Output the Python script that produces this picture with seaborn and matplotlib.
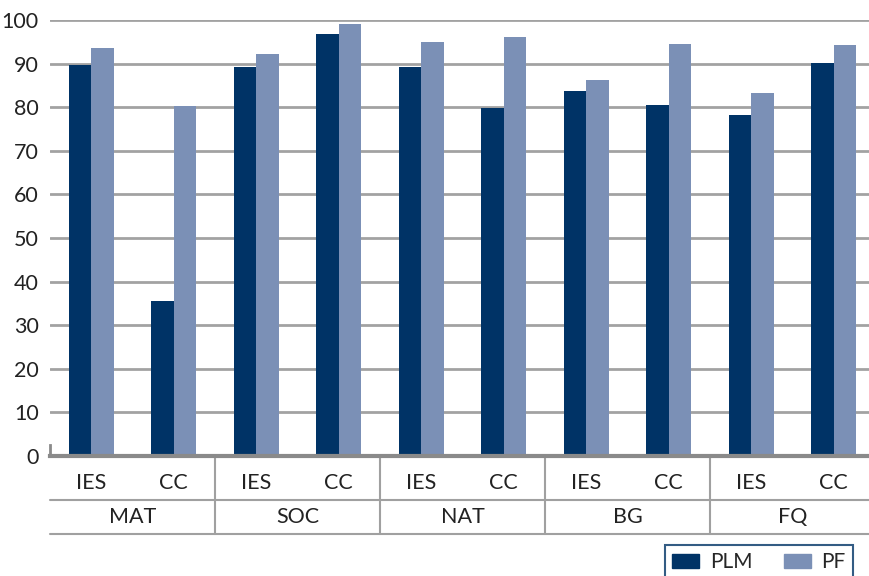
import pandas as pd
import matplotlib
matplotlib.use("Agg")
import matplotlib.pyplot as plt
import matplotlib.transforms as mtransforms
import seaborn as sns

sns.set_style("white")
plt.rcParams['font.family'] = ['Lato', 'DejaVu Sans']

groups = ['MAT', 'SOC', 'NAT', 'BG', 'FQ']
subgroups = ['IES', 'CC']
plm = [89.6, 35.6, 89.2, 96.8, 89.2, 79.9, 83.8, 80.5, 78.2, 90.2]
pf = [93.6, 80.2, 92.2, 99.1, 95.0, 96.1, 86.2, 94.5, 83.3, 94.3]
series = ['PLM', 'PF']
colors = ['#003366', '#7b90b6']

cats = [g + ' ' + s for g in groups for s in subgroups]
d = pd.DataFrame({
    'cat': cats * 2,
    'series': ['PLM'] * len(cats) + ['PF'] * len(cats),
    'value': plm + pf,
})

fig = plt.figure(figsize=(8.7, 5.76), dpi=100)
ax = fig.add_axes([50 / 870, 1 - 456 / 576, 825 / 870, 436 / 576])

sns.barplot(data=d, x='cat', y='value', hue='series', order=cats, hue_order=series,
            palette=colors, width=0.54, saturation=1, linewidth=0, ax=ax, legend=False)

ax.set_ylim(0, 100)
ax.set_xlim(-0.5, len(cats) - 0.5)
ax.set_yticks(range(0, 101, 10))
ax.yaxis.grid(True, color='#a2a2a2', linewidth=2)
ax.set_axisbelow(True)
ax.set(xlabel='', ylabel='')
ax.tick_params(axis='y', length=0, pad=8, labelsize=15.5, labelcolor='#222222')
ax.tick_params(axis='x', length=0, pad=12, labelsize=15.5, labelcolor='#222222')
ax.set_xticks(range(len(cats)))
ax.set_xticklabels([s for g in groups for s in subgroups])

for side in ['top', 'right']:
    ax.spines[side].set_visible(False)
ax.spines['bottom'].set_color('#8a8a8a')
ax.spines['bottom'].set_linewidth(3)
ax.spines['left'].set_color('#8a8a8a')
ax.spines['left'].set_linewidth(2)
ax.spines['left'].set_bounds(0, 2.5)

# second level of the category axis
trans = mtransforms.blended_transform_factory(ax.transData, ax.transAxes)
line_kw = dict(color='#a0a0a0', linewidth=1.5, clip_on=False)
ax.plot([0, 1], [-0.101, -0.101], transform=ax.transAxes, **line_kw)
ax.plot([0, 1], [-0.179, -0.179], transform=ax.transAxes, **line_kw)
for i in range(1, len(groups)):
    xb = i * 2 - 0.5
    ax.plot([xb, xb], [0, -0.179], transform=trans, **line_kw)
for i, g in enumerate(groups):
    ax.text(i * 2 + 0.5, -0.14, g, transform=trans, ha='center', va='center',
            fontsize=15.5, color='#222222')

handles = [plt.Rectangle((0, 0), 1, 1, color=c) for c in colors]
leg = fig.legend(handles, series, loc='upper left',
                 bbox_to_anchor=(665 / 870, 1 - 545 / 576), ncol=2,
                 fontsize=15, frameon=True, fancybox=False,
                 handlelength=1.3, handleheight=0.6, handletextpad=0.5,
                 columnspacing=1.5, borderpad=0.35, borderaxespad=0)
leg.get_frame().set_edgecolor('#003366')
leg.get_frame().set_linewidth(1.5)

fig.savefig('out.png', dpi=100)
